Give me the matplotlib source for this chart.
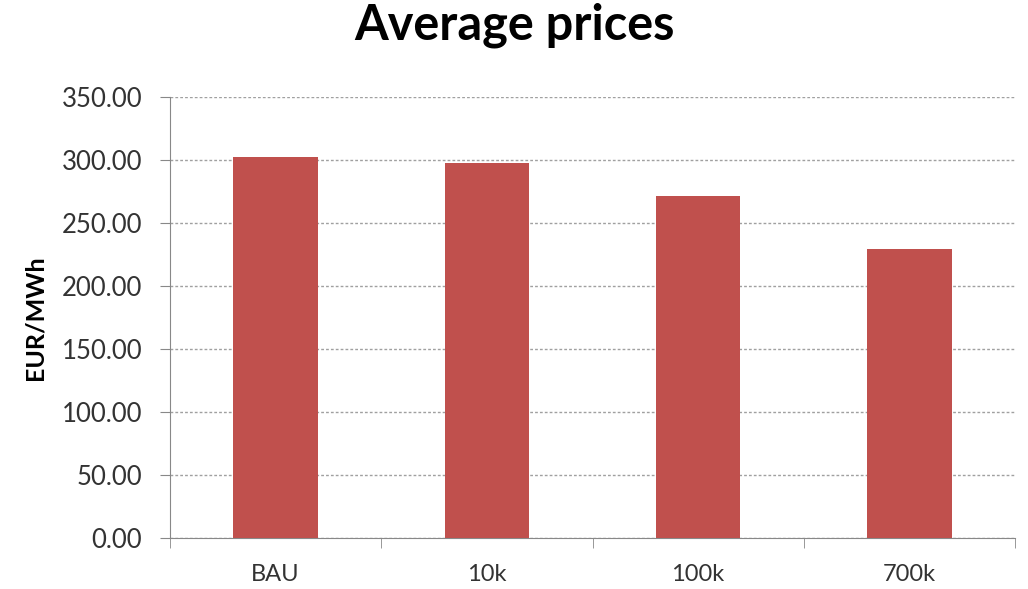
import numpy as np
import matplotlib.pyplot as plt
from matplotlib.ticker import FormatStrFormatter

categories = ['BAU', '10k', '100k', '700k']
prices = [302.4, 297.4, 271.2, 229.2]

plt.rcParams['font.family'] = ['Lato', 'DejaVu Sans']

fig = plt.figure(figsize=(10.28, 5.89), dpi=100)
ax = fig.add_axes([170 / 1028, 1 - 538 / 589, 845 / 1028, 441 / 589])

x = np.arange(len(categories))
ax.bar(x, prices, width=0.4, color='#C0504D', zorder=3)

ax.set_xlim(-0.5, len(categories) - 0.5)
ax.set_ylim(0, 350)
ax.set_yticks(np.arange(0, 351, 50))
ax.yaxis.set_major_formatter(FormatStrFormatter('%.2f'))
ax.grid(axis='y', linestyle=(0, (2, 1.5)), color='#a0a0a0', linewidth=1, zorder=0)

ax.set_xticks(x)
ax.set_xticklabels(categories)
ax.set_xticks(np.arange(-0.5, len(categories), 1), minor=True)
ax.tick_params(axis='x', which='major', length=0, pad=19, labelsize=17, colors='#333333')
ax.tick_params(axis='x', which='minor', length=7, direction='out', color='#888888')
ax.tick_params(axis='y', length=7, direction='out', color='#888888', labelsize=18.5, labelcolor='#333333', pad=13)

for side in ['top', 'right']:
    ax.spines[side].set_visible(False)
for side in ['left', 'bottom']:
    ax.spines[side].set_color('#888888')

ax.set_ylabel('EUR/MWh', fontsize=18, fontweight='bold', labelpad=11)
fig.suptitle('Average prices', fontsize=35, fontweight='bold', y=0.995)

fig.savefig('out.png', dpi=100)
